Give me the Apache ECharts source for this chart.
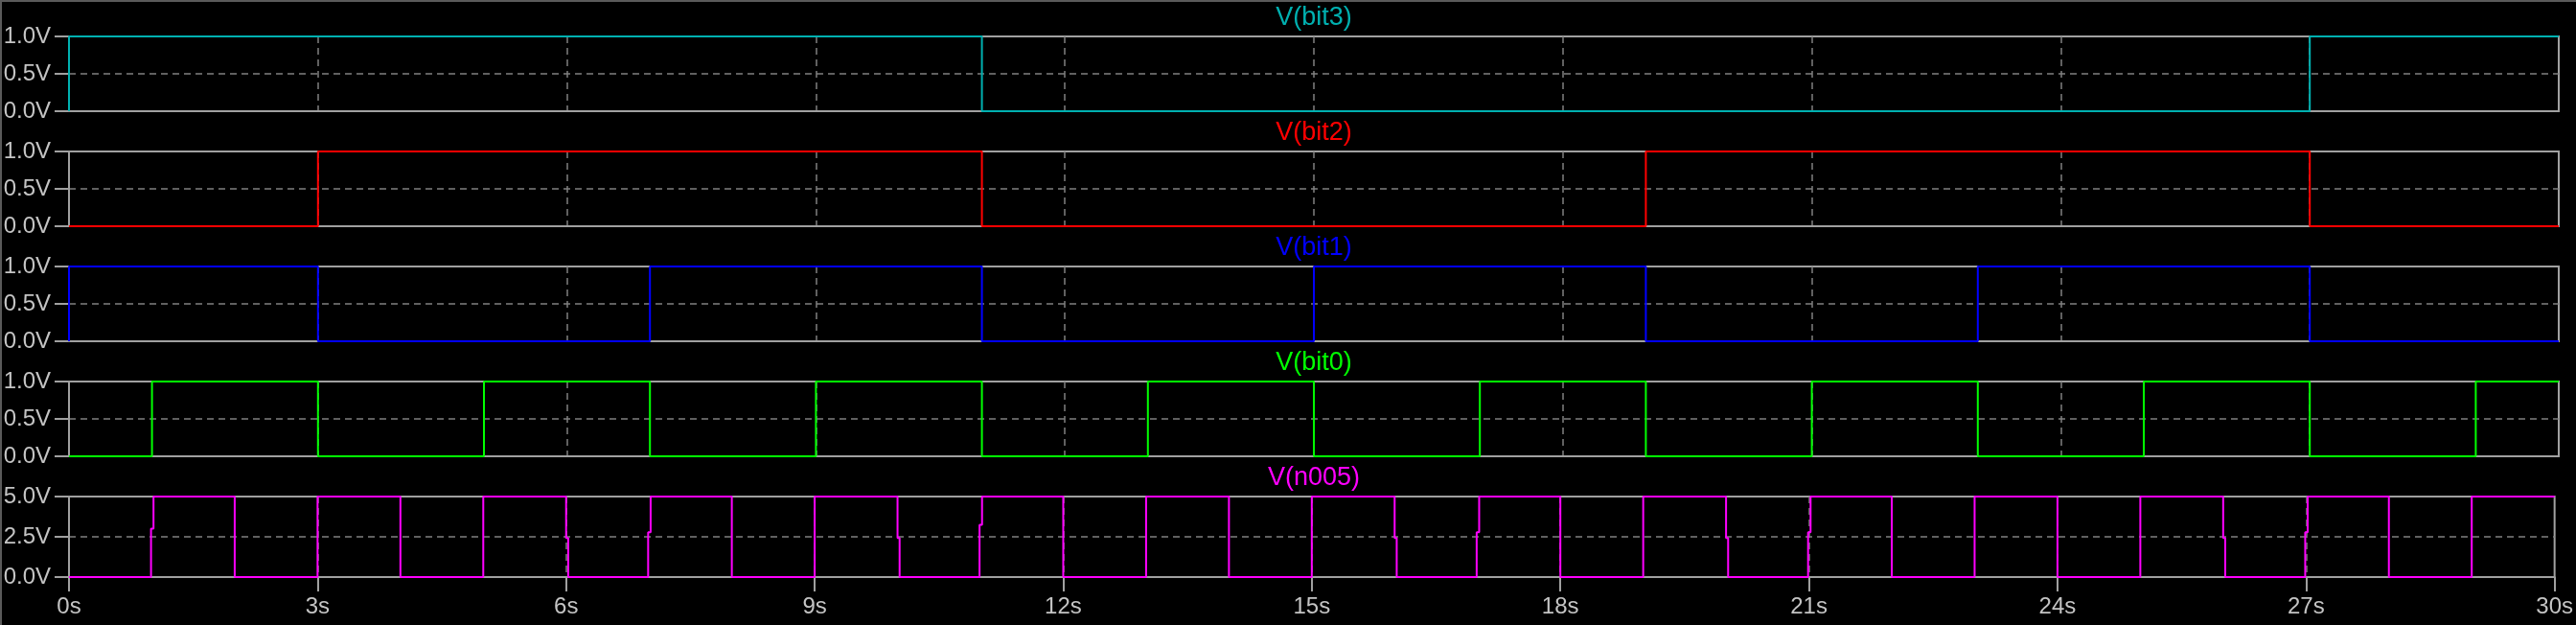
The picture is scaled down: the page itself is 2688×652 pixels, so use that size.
<!DOCTYPE html>
<html>
<head>
<meta charset="utf-8">
<script src="https://cdn.jsdelivr.net/npm/echarts@6/dist/echarts.min.js"></script>
<style>
html,body{margin:0;padding:0;background:#000;}
#chart{width:2688px;height:652px;}
</style>
</head>
<body>
<div id="chart"></div>
<script>
// ---- data ----
const traceNames = ['V(bit3)', 'V(bit2)', 'V(bit1)', 'V(bit0)', 'V(n005)'];
const xTickLabels = ['0s','3s','6s','9s','12s','15s','18s','21s','24s','27s','30s'];
const yTickLabelsBit = ['0.0V','0.5V','1.0V'];
const yTickLabelsN005 = ['0.0V','2.5V','5.0V'];

// [time (s), level (V)] : level holds from this time until the next point
const bit3 = [[0,0],[0,1],[11,0],[27,1],[30,1]];
const bit2 = [[0,0],[3,1],[11,0],[19,1],[27,0],[30,0]];
const bit1 = [[0,0],[0,1],[3,0],[7,1],[11,0],[15,1],[19,0],[23,1],[27,0],[30,0]];
const bit0 = [[0,0],[1,1],[3,0],[5,1],[7,0],[9,1],[11,0],[13,1],[15,0],[17,1],[19,0],[21,1],[23,0],[25,1],[27,0],[29,1],[30,1]];
const n005 = [
  [0,0],[0.99,3.0],[1.02,5],[2,0],[3,5],[4,0],[5,5],
  [6,2.42],[6.025,0],[6.99,2.78],[7.02,5],[8,0],[9,5],
  [10,2.42],[10.025,0],[10.99,3.25],[11.02,5],[12,0],[13,5],[14,0],[15,5],
  [16,2.42],[16.025,0],[16.99,2.78],[17.02,5],[18,0],[19,5],
  [20,2.42],[20.025,0],[20.99,2.78],[21.02,5],[22,0],[23,5],[24,0],[25,5],
  [26,2.42],[26.025,0],[26.99,2.78],[27.02,5],[28,0],[29,5],[30,5]
];
const traces = [bit3, bit2, bit1, bit0, n005];
const yMaxes = [1, 1, 1, 1, 5];
const yLabelSets = [yTickLabelsBit, yTickLabelsBit, yTickLabelsBit, yTickLabelsBit, yTickLabelsN005];

// ---- styling / layout ----
const colors = ['#00b0b0', '#ff0000', '#0000ff', '#00ff00', '#ff00ff'];
const tops = [38, 158, 278, 398, 518];
const heights = [78, 78, 78, 78, 84];
const plotLeft = 72, plotRight = 18;
const FONT = "'Liberation Sans', Arial, sans-serif";
const borderColor = '#a0a0a0';
const gridDash = '#808080';
const labelColor = '#c4c4c4';

const grids = [], xAxes = [], yAxes = [], series = [], graphics = [];
for (let i = 0; i < 5; i++) {
  const last = i === 4;
  grids.push({
    left: plotLeft, right: plotRight, top: tops[i], height: heights[i],
    show: true, borderColor: borderColor, borderWidth: 2, backgroundColor: 'transparent'
  });
  xAxes.push({
    type: 'value', gridIndex: i, min: 0, max: 30, interval: 3,
    axisLine: { show: true, lineStyle: { color: borderColor, width: 2 } },
    axisTick: { show: last, length: 15, lineStyle: { color: borderColor, width: 2 } },
    axisLabel: {
      show: last, margin: 19, color: labelColor, fontFamily: FONT, fontSize: 24,
      formatter: v => xTickLabels[Math.round(v / 3)]
    },
    splitLine: { show: true, showMinLine: false, showMaxLine: false,
      lineStyle: { color: gridDash, type: [7, 5], width: 1.5 } }
  });
  yAxes.push({
    type: 'value', gridIndex: i, min: 0, max: yMaxes[i], interval: yMaxes[i] / 2,
    axisLine: { show: true, lineStyle: { color: borderColor, width: 2 } },
    axisTick: { show: true, length: 15, lineStyle: { color: borderColor, width: 2 } },
    axisLabel: {
      show: true, margin: 19, color: labelColor, fontFamily: FONT, fontSize: 24,
      formatter: v => yLabelSets[i][Math.round(v / (yMaxes[i] / 2))]
    },
    splitLine: { show: true, showMinLine: false, showMaxLine: false,
      lineStyle: { color: gridDash, type: [7, 5], width: 1.5 } }
  });
  series.push({
    type: 'line', name: traceNames[i], xAxisIndex: i, yAxisIndex: i,
    data: traces[i], step: 'end', showSymbol: false, clip: false,
    lineStyle: { color: colors[i], width: 2 }, itemStyle: { color: colors[i] },
    z: 5, animation: false
  });
  graphics.push({
    type: 'text', left: 'center', x: 0,
    style: {
      text: traceNames[i], x: plotLeft + (2688 - plotLeft - plotRight) / 2, y: tops[i] - 19,
      textAlign: 'center', textVerticalAlign: 'middle',
      fill: colors[i], font: "27px " + FONT
    }
  });
}
// window frame (top & left edges)
graphics.push({ type: 'line', shape: { x1: 0, y1: 1, x2: 2688, y2: 1 }, style: { stroke: '#5a5a5a', lineWidth: 2 } });
graphics.push({ type: 'line', shape: { x1: 1, y1: 0, x2: 1, y2: 652 }, style: { stroke: '#5a5a5a', lineWidth: 2 } });

// fix text graphics: use absolute position without left/center
graphics.forEach(g => { if (g.type === 'text') { delete g.left; delete g.x; } });

const chart = echarts.init(document.getElementById('chart'));
chart.setOption({
  backgroundColor: '#000000',
  animation: false,
  grid: grids,
  xAxis: xAxes,
  yAxis: yAxes,
  series: series,
  graphic: graphics
});
</script>
</body>
</html>
